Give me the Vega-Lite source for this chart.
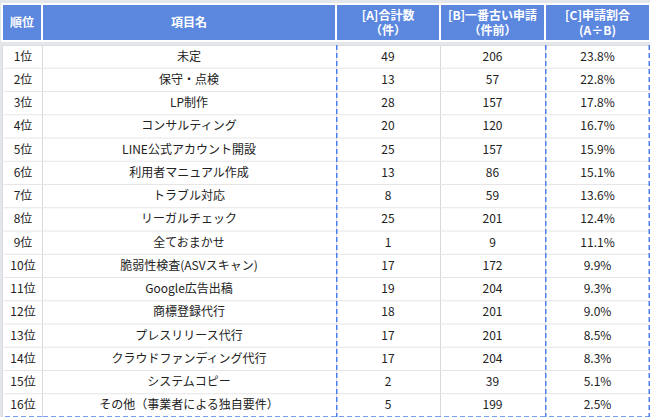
{
  "$schema": "https://vega.github.io/schema/vega-lite/v6.json",
  "padding": {"top": 3, "left": 0, "right": 0, "bottom": 0},
  "background": "#e3e6ea",
  "bounds": "flush",
  "align": "each",
  "columns": 5,
  "spacing": {"row": 4, "column": 0},
  "config": {
    "font": "Noto Sans CJK JP",
    "text": {"font": "Noto Sans CJK JP", "fontSize": 12, "color": "#222222"}
  },
  "datasets": {
    "rows": [
      {"rank": "1位", "item": "未定", "total": 49, "oldest": 206, "ratio": 0.238},
      {"rank": "2位", "item": "保守・点検", "total": 13, "oldest": 57, "ratio": 0.228},
      {"rank": "3位", "item": "LP制作", "total": 28, "oldest": 157, "ratio": 0.178},
      {"rank": "4位", "item": "コンサルティング", "total": 20, "oldest": 120, "ratio": 0.167},
      {"rank": "5位", "item": "LINE公式アカウント開設", "total": 25, "oldest": 157, "ratio": 0.159},
      {"rank": "6位", "item": "利用者マニュアル作成", "total": 13, "oldest": 86, "ratio": 0.151},
      {"rank": "7位", "item": "トラブル対応", "total": 8, "oldest": 59, "ratio": 0.136},
      {"rank": "8位", "item": "リーガルチェック", "total": 25, "oldest": 201, "ratio": 0.124},
      {"rank": "9位", "item": "全ておまかせ", "total": 1, "oldest": 9, "ratio": 0.111},
      {"rank": "10位", "item": "脆弱性検査(ASVスキャン)", "total": 17, "oldest": 172, "ratio": 0.099},
      {"rank": "11位", "item": "Google広告出稿", "total": 19, "oldest": 204, "ratio": 0.093},
      {"rank": "12位", "item": "商標登録代行", "total": 18, "oldest": 201, "ratio": 0.090},
      {"rank": "13位", "item": "プレスリリース代行", "total": 17, "oldest": 201, "ratio": 0.085},
      {"rank": "14位", "item": "クラウドファンディング代行", "total": 17, "oldest": 204, "ratio": 0.083},
      {"rank": "15位", "item": "システムコピー", "total": 2, "oldest": 39, "ratio": 0.051},
      {"rank": "16位", "item": "その他（事業者による独自要件）", "total": 5, "oldest": 199, "ratio": 0.025}
    ]
  },
  "concat": [
    {"width": 40, "height": 37, "data": {"values": [{"label": "順位"}]}, "view": {"fill": "#5b87df", "stroke": "white", "strokeWidth": 2},
     "mark": {"type": "text", "color": "white", "fontWeight": "bold", "fontSize": 12, "baseline": "middle"},
     "encoding": {"text": {"field": "label"}}},
    {"width": 294, "height": 37, "data": {"values": [{"label": "項目名"}]}, "view": {"fill": "#5b87df", "stroke": "white", "strokeWidth": 2},
     "mark": {"type": "text", "color": "white", "fontWeight": "bold", "fontSize": 12, "baseline": "middle"},
     "encoding": {"text": {"field": "label"}}},
    {"width": 104, "height": 37, "data": {"values": [{"label": ["[A]合計数", "（件）"]}]}, "view": {"fill": "#5b87df", "stroke": "white", "strokeWidth": 2},
     "mark": {"type": "text", "color": "white", "fontWeight": "bold", "fontSize": 12, "lineHeight": 15, "baseline": "middle", "dy": -7},
     "encoding": {"text": {"field": "label"}}},
    {"width": 105, "height": 37, "data": {"values": [{"label": ["[B]一番古い申請", "（件前）"]}]}, "view": {"fill": "#5b87df", "stroke": "white", "strokeWidth": 2},
     "mark": {"type": "text", "color": "white", "fontWeight": "bold", "fontSize": 12, "lineHeight": 15, "baseline": "middle", "dy": -7},
     "encoding": {"text": {"field": "label"}}},
    {"width": 105, "height": 37, "data": {"values": [{"label": ["[C]申請割合", "(A÷B)"]}]}, "view": {"fill": "#5b87df", "stroke": "white", "strokeWidth": 2},
     "mark": {"type": "text", "color": "white", "fontWeight": "bold", "fontSize": 12, "lineHeight": 15, "baseline": "middle", "dy": -7},
     "encoding": {"text": {"field": "label"}}},
    {
      "width": 40, "height": 372,
      "data": {"name": "rows"},
      "view": {"fill": "white", "stroke": "#d9d9d9"},
      "encoding": {"y": {"field": "rank", "type": "ordinal", "sort": null, "scale": {"type": "band", "paddingInner": 0, "paddingOuter": 0}, "axis": null}},
      "layer": [
        {"mark": {"type": "rule", "color": "#e6e6e6", "strokeWidth": 1},
         "encoding": {"y": {"field": "rank", "type": "ordinal", "sort": null, "bandPosition": 0}}},
        {"mark": {"type": "text", "dx": 1}, "encoding": {"text": {"field": "rank"}}},
        {"mark": {"type": "rule", "color": "#4a80e8", "strokeDash": [5, 3], "strokeWidth": 1.5},
         "encoding": {
           "y": {"field": "rank", "type": "ordinal", "sort": null, "bandPosition": 1},
           "opacity": {"condition": {"test": "datum.rank === '16位'", "value": 1}, "value": 0}}}
      ]
    },
    {
      "width": 294, "height": 372,
      "data": {"name": "rows"},
      "view": {"fill": "white", "stroke": "#d9d9d9"},
      "encoding": {"y": {"field": "rank", "type": "ordinal", "sort": null, "scale": {"type": "band", "paddingInner": 0, "paddingOuter": 0}, "axis": null}},
      "layer": [
        {"mark": {"type": "rule", "color": "#e6e6e6", "strokeWidth": 1},
         "encoding": {"y": {"field": "rank", "type": "ordinal", "sort": null, "bandPosition": 0}}},
        {"mark": {"type": "text"}, "encoding": {"text": {"field": "item"}}},
        {"mark": {"type": "rule", "color": "#4a80e8", "strokeDash": [5, 3], "strokeWidth": 1.5},
         "encoding": {
           "y": {"field": "rank", "type": "ordinal", "sort": null, "bandPosition": 1},
           "opacity": {"condition": {"test": "datum.rank === '16位'", "value": 1}, "value": 0}}}
      ]
    },
    {
      "width": 104, "height": 372,
      "data": {"name": "rows"},
      "view": {"fill": "white", "stroke": "#d9d9d9"},
      "encoding": {"y": {"field": "rank", "type": "ordinal", "sort": null, "scale": {"type": "band", "paddingInner": 0, "paddingOuter": 0}, "axis": null}},
      "layer": [
        {"mark": {"type": "rule", "color": "#e6e6e6", "strokeWidth": 1},
         "encoding": {"y": {"field": "rank", "type": "ordinal", "sort": null, "bandPosition": 0}}},
        {"mark": {"type": "text"}, "encoding": {"text": {"field": "total"}}},
        {"mark": {"type": "rule", "color": "#4a80e8", "strokeDash": [5, 3], "strokeWidth": 1.5},
         "encoding": {
           "y": {"field": "rank", "type": "ordinal", "sort": null, "bandPosition": 1},
           "opacity": {"condition": {"test": "datum.rank === '16位'", "value": 1}, "value": 0}}},
        {"data": {"values": [{}]},
         "mark": {"type": "rule", "color": "#4a80e8", "strokeDash": [5, 3], "strokeWidth": 1.5},
         "encoding": {"x": {"value": 0.75}, "y": null}}
      ]
    },
    {
      "width": 105, "height": 372,
      "data": {"name": "rows"},
      "view": {"fill": "white", "stroke": "#d9d9d9"},
      "encoding": {"y": {"field": "rank", "type": "ordinal", "sort": null, "scale": {"type": "band", "paddingInner": 0, "paddingOuter": 0}, "axis": null}},
      "layer": [
        {"mark": {"type": "rule", "color": "#e6e6e6", "strokeWidth": 1},
         "encoding": {"y": {"field": "rank", "type": "ordinal", "sort": null, "bandPosition": 0}}},
        {"mark": {"type": "text"}, "encoding": {"text": {"field": "oldest"}}},
        {"mark": {"type": "rule", "color": "#4a80e8", "strokeDash": [5, 3], "strokeWidth": 1.5},
         "encoding": {
           "y": {"field": "rank", "type": "ordinal", "sort": null, "bandPosition": 1},
           "opacity": {"condition": {"test": "datum.rank === '16位'", "value": 1}, "value": 0}}}
      ]
    },
    {
      "width": 105, "height": 372,
      "data": {"name": "rows"},
      "view": {"fill": "white", "stroke": "#d9d9d9"},
      "encoding": {"y": {"field": "rank", "type": "ordinal", "sort": null, "scale": {"type": "band", "paddingInner": 0, "paddingOuter": 0}, "axis": null}},
      "layer": [
        {"mark": {"type": "rule", "color": "#e6e6e6", "strokeWidth": 1},
         "encoding": {"y": {"field": "rank", "type": "ordinal", "sort": null, "bandPosition": 0}}},
        {"mark": {"type": "text"}, "encoding": {"text": {"field": "ratio", "format": ".1%"}}},
        {"mark": {"type": "rule", "color": "#4a80e8", "strokeDash": [5, 3], "strokeWidth": 1.5},
         "encoding": {
           "y": {"field": "rank", "type": "ordinal", "sort": null, "bandPosition": 1},
           "opacity": {"condition": {"test": "datum.rank === '16位'", "value": 1}, "value": 0}}},
        {"data": {"values": [{}]},
         "mark": {"type": "rule", "color": "#4a80e8", "strokeDash": [5, 3], "strokeWidth": 1.5},
         "encoding": {"x": {"value": 0.75}, "y": null}},
        {"data": {"values": [{}]},
         "mark": {"type": "rule", "color": "#4a80e8", "strokeDash": [5, 3], "strokeWidth": 1.5},
         "encoding": {"x": {"value": 104.25}, "y": null}}
      ]
    }
  ]
}
